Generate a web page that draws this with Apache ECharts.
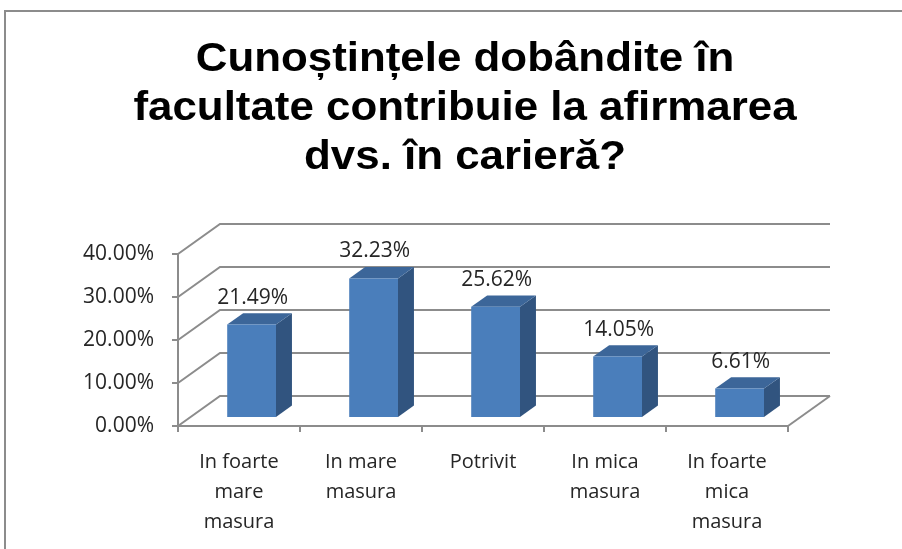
<!DOCTYPE html>
<html><head><meta charset="utf-8">
<script src="https://cdn.jsdelivr.net/npm/echarts@6/dist/echarts.min.js"></script>
<style>html,body{margin:0;padding:0;background:#fff}#c{width:902px;height:549px}</style>
</head><body><div id="c"></div>
<script>
const titleText = 'Cunoștințele dobândite în\nfacultate contribuie la afirmarea\ndvs. în carieră?';
const categories = ['In foarte\nmare\nmasura', 'In mare\nmasura', 'Potrivit', 'In mica\nmasura', 'In foarte\nmica\nmasura'];
const values = [21.49, 32.23, 25.62, 14.05, 6.61];
const yTicks = [0, 10, 20, 30, 40];

const DX = 42, DY = -30;
const GRID = '#8c8c8c';
const FONT = '"Open Sans", sans-serif';

const chart = echarts.init(document.getElementById('c'), null, {renderer: 'canvas'});

function wallItem(params, api) {
  const v = api.value(1);
  const bw = api.size([1, 0])[0];
  const pl = api.coord([0, v]);
  const pr = api.coord([categories.length - 1, v]);
  const left = pl[0] - bw / 2, right = pr[0] + bw / 2, y = pl[1];
  const children = [{
    type: 'polyline',
    shape: {points: [[left, y], [left + DX, y + DY], [right + DX, y + DY]]},
    style: {stroke: GRID, lineWidth: 2, fill: null}
  }];
  if (v === 0) {
    children.push({
      type: 'line',
      shape: {x1: right, y1: y, x2: right + DX, y2: y + DY},
      style: {stroke: GRID, lineWidth: 2}
    });
  }
  return {type: 'group', children};
}

function barItem(params, api) {
  const idx = api.value(0), val = api.value(1);
  const c = api.coord([idx, val]);
  const b = api.coord([idx, 0]);
  const bw = api.size([1, 0])[0];
  const w = bw * 0.4;
  const f0 = 0.3, f1 = 0.68;
  const ox = DX * f0, oy = DY * f0;
  const dx = DX * (f1 - f0), dy = DY * (f1 - f0);
  const x0 = c[0] - w / 2 + ox, x1 = x0 + w;
  const yT = c[1] + oy, yB = b[1] + oy;
  return {
    type: 'group',
    children: [
      {type: 'polygon', shape: {points: [[x1, yB], [x1, yT], [x1 + dx, yT + dy], [x1 + dx, yB + dy]]},
        style: {fill: '#31547f'}},
      {type: 'polygon', shape: {points: [[x0, yT], [x1, yT], [x1 + dx, yT + dy], [x0 + dx, yT + dy]]},
        style: {fill: '#3c6699'}},
      {type: 'rect', shape: {x: x0, y: yT, width: w, height: yB - yT},
        style: {fill: '#4a7ebb'}},
      {type: 'text', x: (x0 + x1) / 2 + 1, y: yT + dy - 5,
        style: {text: val.toFixed(2) + '%', fill: '#262626', font: '21px ' + FONT,
          textAlign: 'center', textVerticalAlign: 'bottom'}}
    ]
  };
}

chart.setOption({
  animation: false,
  backgroundColor: '#fff',
  graphic: [
    {type: 'rect', shape: {x: 5, y: 11, width: 920, height: 560},
      style: {fill: null, stroke: '#8c8c8c', lineWidth: 2}, z: 0},
    {type: 'text', x: 465, y: 35, scaleX: 1.07,
      style: {text: titleText, font: 'bold 41px "Liberation Sans", Arial, sans-serif',
        fill: '#000', textAlign: 'center', textVerticalAlign: 'top', lineHeight: 49}}
  ],
  grid: {left: 178, right: 114, top: 254, bottom: 123},
  xAxis: {
    type: 'category', data: categories,
    axisLine: {lineStyle: {color: GRID, width: 2}},
    axisTick: {show: true, length: 6, lineStyle: {color: GRID, width: 2}},
    axisLabel: {color: '#262626', fontFamily: FONT, fontSize: 20, lineHeight: 30, margin: 21, interval: 0},
    splitLine: {show: false}
  },
  yAxis: {
    type: 'value', min: 0, max: 40, interval: 10,
    axisLine: {show: true, lineStyle: {color: GRID, width: 2}},
    axisTick: {show: true, length: 6, lineStyle: {color: GRID, width: 2}},
    axisLabel: {color: '#262626', fontFamily: FONT, fontSize: 21, margin: 24,
      formatter: v => v.toFixed(2) + '%'},
    splitLine: {show: false}
  },
  series: [
    {type: 'custom', name: 'walls', renderItem: wallItem, clip: false, z: 1, silent: true,
      data: yTicks.map(v => [0, v])},
    {type: 'custom', name: 'bars', renderItem: barItem, clip: false, z: 3,
      data: values.map((v, i) => [i, v])}
  ]
});
</script></body></html>
